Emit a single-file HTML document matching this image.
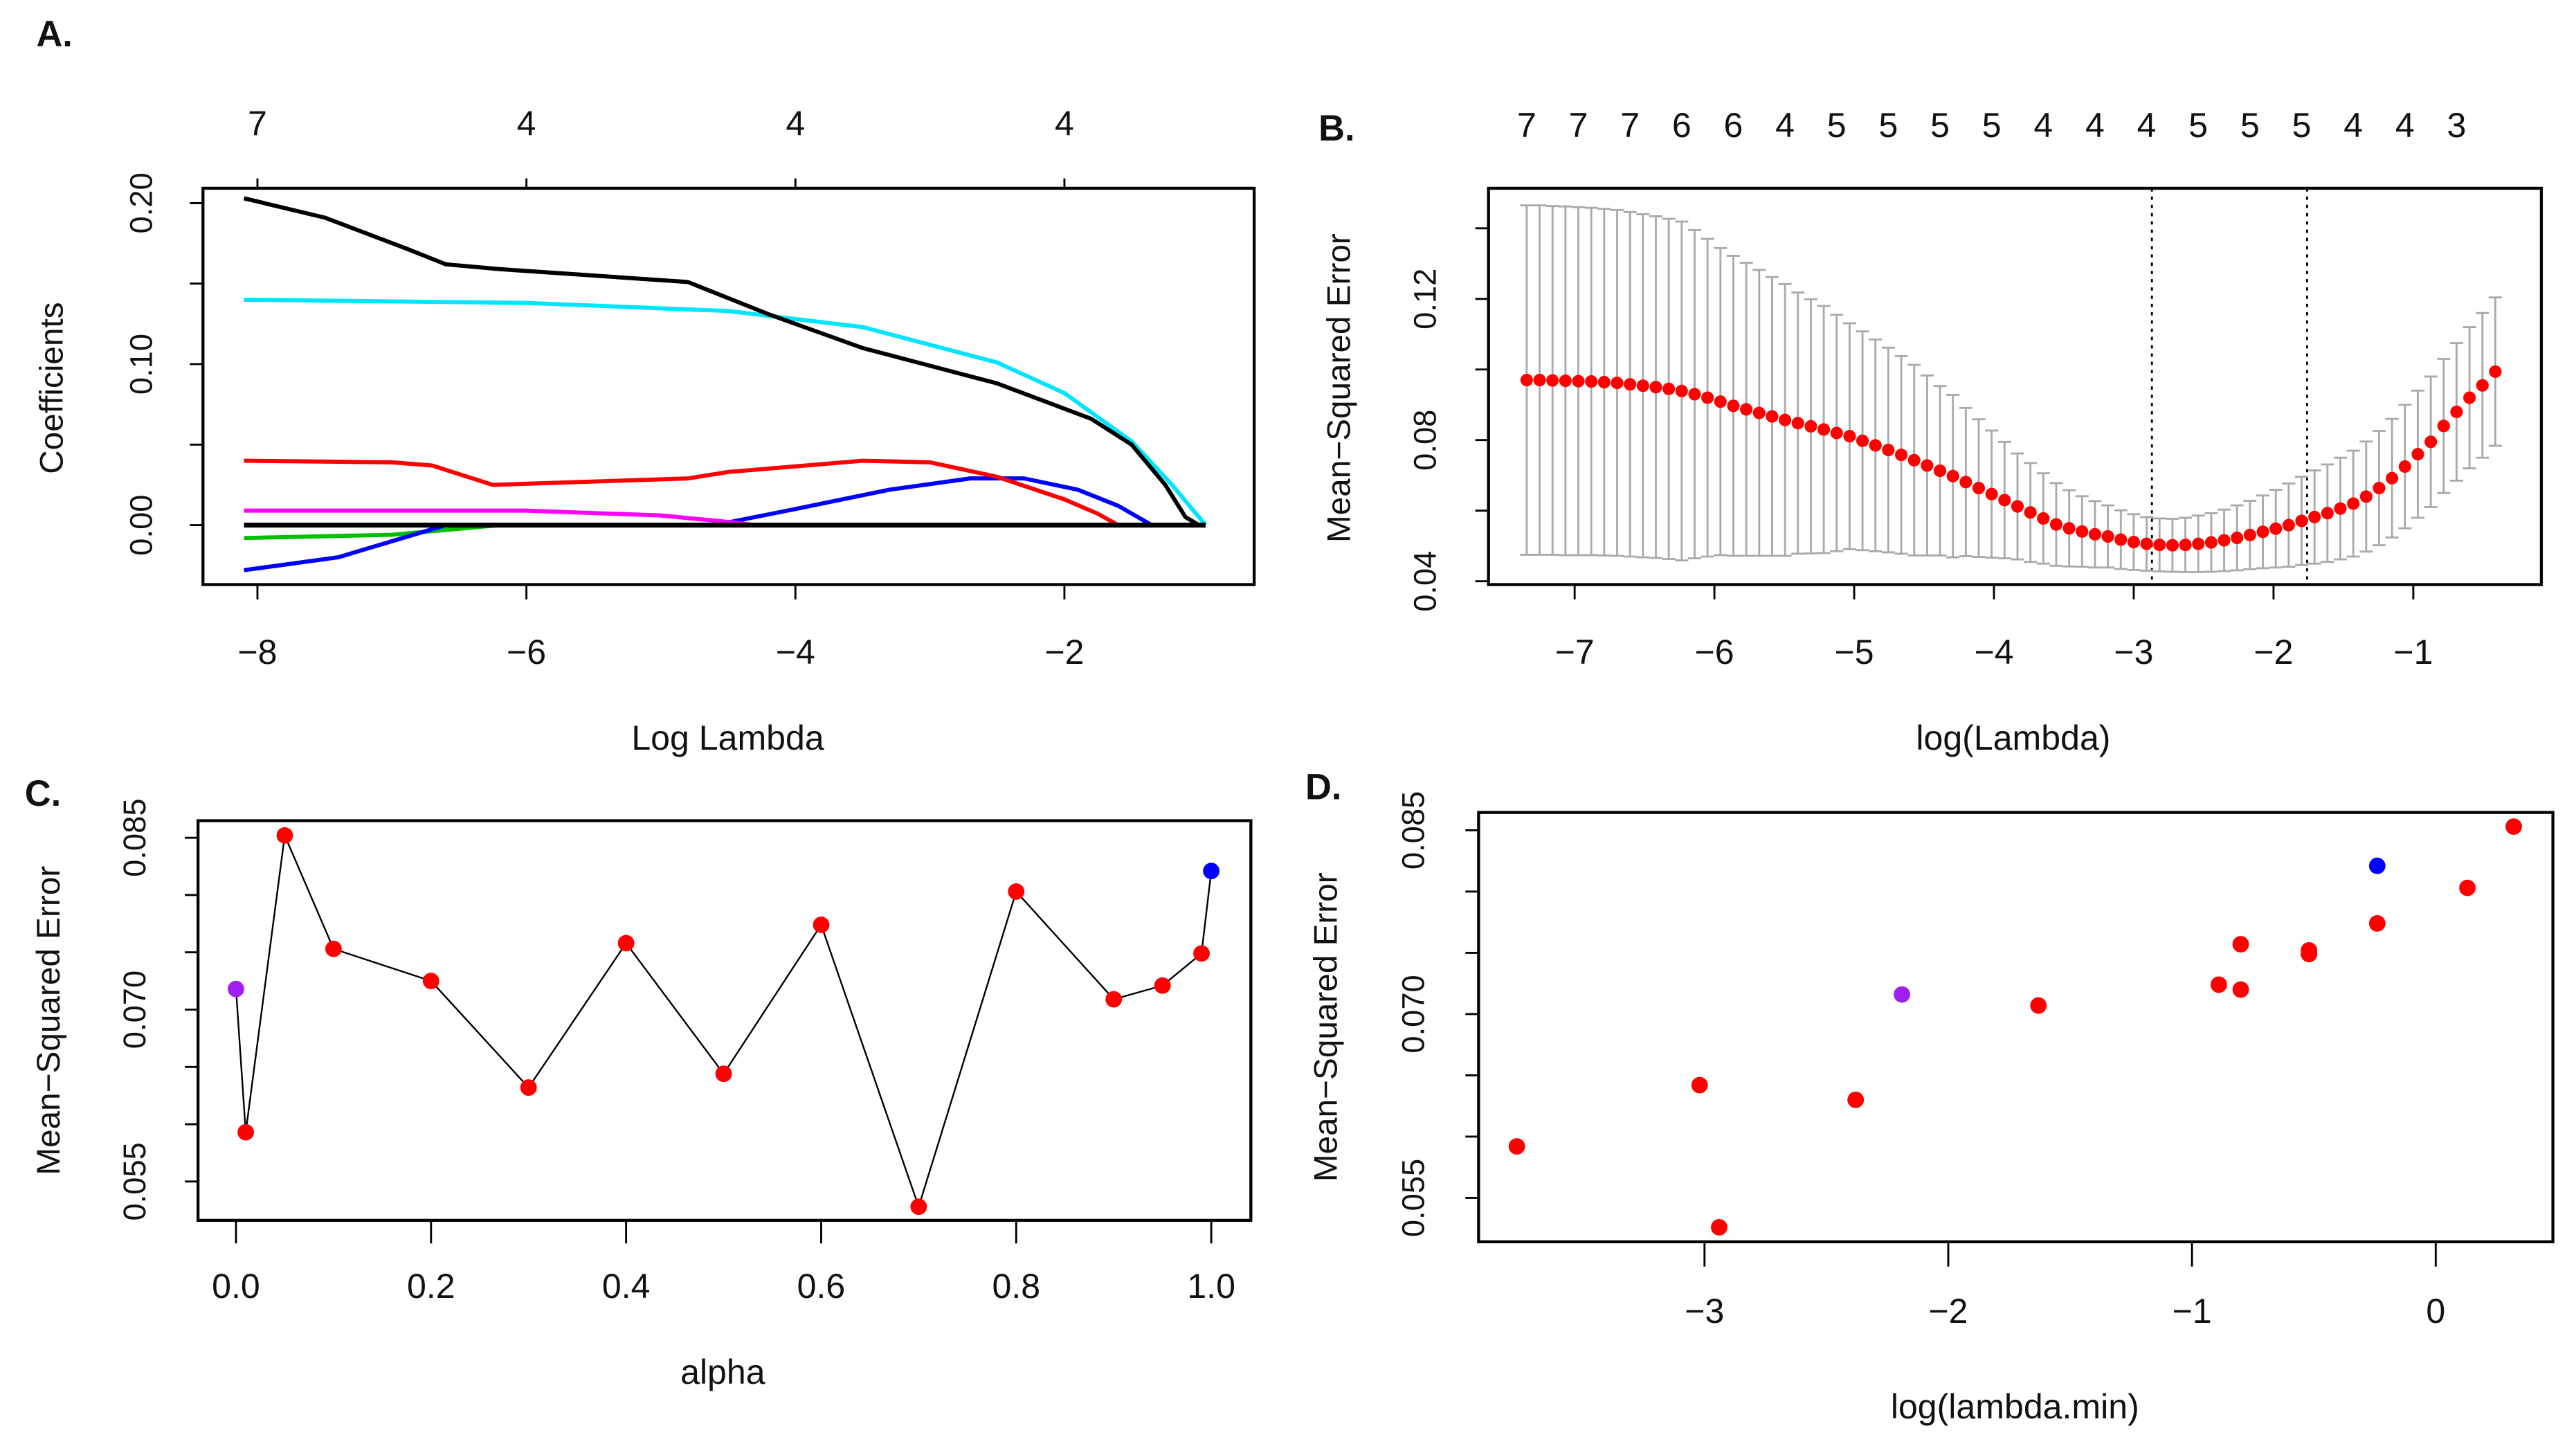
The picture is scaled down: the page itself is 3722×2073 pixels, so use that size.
<!DOCTYPE html>
<html><head><meta charset="utf-8"><style>
html,body{margin:0;padding:0;background:#fff;}
svg{display:block;}
text{font-family:"Liberation Sans Narrow","Liberation Sans",sans-serif;fill:#111;}
.wide{font-family:"Liberation Sans",sans-serif;}
</style></head><body>
<svg id="fig" width="3722" height="2073" viewBox="0 0 1561 869" preserveAspectRatio="none" xmlns="http://www.w3.org/2000/svg"></svg>
<script>
// ---------- Panel A data ----------
const aBlackX=[-8.1,-7.5,-6.9,-6.6,-6.2,-4.8,-4.2,-3.5,-2.5,-1.8,-1.5,-1.25,-1.1,-1.0];
const aBlackY=[0.203,0.191,0.172,0.162,0.159,0.151,0.131,0.110,0.088,0.066,0.050,0.025,0.005,0];
const aCyanX=[-8.1,-6,-4.5,-3.5,-2.5,-2,-1.5,-1.2,-0.95];
const aCyanY=[0.140,0.138,0.133,0.123,0.101,0.082,0.052,0.025,0];
const aRedX=[-8.1,-7,-6.7,-6.25,-4.8,-4.5,-3.5,-3,-2.5,-2,-1.75,-1.6];
const aRedY=[0.040,0.039,0.037,0.025,0.029,0.033,0.040,0.039,0.030,0.016,0.007,0];
const aBlueX=[-8.1,-7.4,-6.8,-6.6,-4.6,-4,-3.3,-2.7,-2.3,-1.9,-1.6,-1.35];
const aBlueY=[-0.028,-0.020,-0.005,0,0,0.010,0.022,0.029,0.029,0.022,0.012,0];
const aMagX=[-8.1,-6,-5,-4.5,-4.3,-0.95];
const aMagY=[0.009,0.009,0.006,0.002,0,0];
const aGreenX=[-8.1,-7,-6.2,-0.95];
const aGreenY=[-0.008,-0.006,0,0];
const aZeroX=[-8.1,-0.95];
const aZeroY=[0,0];
const aXTicks=[-8,-6,-4,-2];
const aYTicks=[0,0.05,0.10,0.15,0.20];
const aYLabels=["0.00","0.10","0.20"];
const aTopLabels=["7","4","4","4"];
// ---------- Panel B data ----------
const bStart=-7.343, bStep=0.0924;
const bMean=[0.0970,0.0970,0.0969,0.0968,0.0967,0.0966,0.0964,0.0962,
0.0958,0.0954,0.0950,0.0945,0.0939,0.0930,0.0920,0.0909,
0.0897,0.0887,0.0877,0.0867,0.0857,0.0848,0.0839,0.0830,0.0820,0.0811,
0.0798,0.0785,0.0772,0.0758,0.0743,0.0728,0.0713,0.0698,
0.0681,0.0664,0.0647,0.0630,0.0612,0.0595,0.0578,0.0561,
0.0550,0.0541,0.0533,0.0527,0.0518,0.0511,0.0506,0.0503,0.0502,
0.0503,0.0506,0.0510,0.0516,0.0523,0.0531,0.0540,
0.0549,0.0559,0.0571,0.0582,0.0593,0.0606,0.0620,0.0640,
0.0664,0.0692,0.0725,0.0760,0.0795,0.0840,0.0880,0.0920,0.0955,0.0994];
const bSd=[.0495,.0495,.0494,.0494,.0493,.0492,.0491,.0490,
.0488,.0486,.0484,.0482,.0480,.0465,.0450,.0435,
.0425,.0415,.0405,.0395,.0385,.0370,.0360,.0350,.0335,.0320,
.0310,.0300,.0290,.0280,.0270,.0255,.0240,.0230,
.0210,.0195,.0180,.0165,.0150,.0140,.0128,.0117,
.0108,.0100,.0094,.0088,.0083,.0079,.0076,.0075,.0075,
.0077,.0080,.0083,.0087,.0092,.0097,.0103,
.0110,.0118,.0125,.0132,.0138,.0144,.0150,.0156,
.0162,.0168,.0175,.0180,.0185,.0190,.0195,.0200,.0205,.0210];
const bTop=["7","7","7","6","6","4","5","5","5","5","4","4","4","5","5","5","4","4","3"];
const bXTicks=[-7,-6,-5,-4,-3,-2,-1];
const bYTicks=[0.04,0.06,0.08,0.10,0.12,0.14];
const bYLabels=["0.04","0.08","0.12"];
const bVlines=[-2.87,-1.76];
// ---------- Panel C data ----------
const cAlpha=[0,0.01,0.05,0.1,0.2,0.3,0.4,0.5,0.6,0.7,0.8,0.9,0.95,0.99,1.0];
const cMse=[0.0718,0.0593,0.0852,0.0753,0.0725,0.0632,0.0758,0.0644,0.0774,0.0528,0.0803,0.0709,0.0721,0.0749,0.0821];
const cColor=["#a020f0","red","red","red","red","red","red","red","red","red","red","red","red","red","blue"];
const cXTicks=[0,0.2,0.4,0.6,0.8,1.0];
const cYTicks=[0.055,0.060,0.065,0.070,0.075,0.080,0.085];
// ---------- Panel D data ----------
const dLog=[-3.77,-3.02,-2.94,-2.38,-2.19,-1.63,-0.89,-0.80,-0.80,-0.52,-0.52,-0.24,-0.24,0.13,0.32];
const dMse=[0.0592,0.0642,0.0526,0.0630,0.0716,0.0707,0.0724,0.0757,0.0720,0.0752,0.0749,0.0774,0.0821,0.0803,0.0853];
const dColor=["red","red","red","red","#a020f0","red","red","red","red","red","red","red","blue","red","red"];
const dXTicks=[-3,-2,-1,0];
const dYTicks=[0.055,0.060,0.065,0.070,0.075,0.080,0.085];

const NS="http://www.w3.org/2000/svg";
const svg=document.getElementById('fig');
function el(tag,attrs,parent,txt){const e=document.createElementNS(NS,tag);for(const k in attrs)e.setAttribute(k,attrs[k]);if(txt!==undefined)e.textContent=txt;(parent||svg).appendChild(e);return e;}
function grp(name){const g=el('g',{});


return g;}
function txt(g,x,y,s,size,opts){opts=opts||{};const a={x:x,y:y,'font-size':size,'text-anchor':opts.anchor||'middle'};
if(opts.rot)a.transform='rotate(-90 '+x+' '+y+')';if(opts.cls)a['class']=opts.cls;if(opts.weight)a['font-weight']=opts.weight;
const t=el('text',a,g,s);


return t;}
function line(g,x1,y1,x2,y2,st,w,dash){const a={x1:x1,y1:y1,x2:x2,y2:y2,stroke:st,'stroke-width':w};if(dash)a['stroke-dasharray']=dash;return el('line',a,g);}
function poly(g,xs,ys,fx,fy,col,w,name){const p=el('polyline',{points:xs.map((v,i)=>fx(v)+','+fy(ys[i])).join(' '),fill:'none',stroke:col,'stroke-width':w,'stroke-linejoin':'round'},g);

}

// ===== Panel A =====
(function(){const g=grp('panel-a-coefficient-paths');
const X=v=>156+(v+8)*81.5, Y=v=>318-v*975;
txt(g,33,28,'A.',22,{cls:'wide',weight:'bold',name:'panel-a-letter'});
el('rect',{x:123,y:114,width:637,height:240,fill:'none',stroke:'#000','stroke-width':1.8},g);
aXTicks.forEach(t=>{line(g,X(t),354,X(t),363,'#000',1.2);txt(g,X(t),402,'\u2212'+Math.abs(t),21,{name:'x-tick-label'});
line(g,X(t),114,X(t),108,'#000',1.2);});
aTopLabels.forEach((s,i)=>txt(g,X(aXTicks[i]),82,s,21,{name:'top-df-label'}));
aYTicks.forEach(t=>line(g,123,Y(t),115,Y(t),'#000',1.2));
aYLabels.forEach(s=>txt(g,92,Y(parseFloat(s)),s,19,{rot:true,cls:'wide',name:'y-tick-label'}));
txt(g,38,235,'Coefficients',20,{rot:true,cls:'wide',name:'y-axis-title'});
txt(g,441,454,'Log Lambda',21,{name:'x-axis-title'});
poly(g,aGreenX,aGreenY,X,Y,'#00c000',2.5,'path-green');
poly(g,aBlueX,aBlueY,X,Y,'#0000ff',2.5,'path-blue');
poly(g,aMagX,aMagY,X,Y,'#ff00ff',2.5,'path-magenta');
poly(g,aRedX,aRedY,X,Y,'#ff0000',2.5,'path-red');
poly(g,aCyanX,aCyanY,X,Y,'#00e5ff',2.5,'path-cyan');
poly(g,aZeroX,aZeroY,X,Y,'#000',3,'path-zero');
poly(g,aBlackX,aBlackY,X,Y,'#000',2.5,'path-black');
})();

// ===== Panel B =====
(function(){const g=grp('panel-b-cv-curve');
const X=v=>1293+(v+3)*84.7, Y=v=>352-(v-0.04)*2137.5;
txt(g,810,85,'B.',22,{cls:'wide',weight:'bold',name:'panel-b-letter'});
el('rect',{x:902,y:114,width:638,height:240,fill:'none',stroke:'#000','stroke-width':1.8},g);
bXTicks.forEach(t=>{line(g,X(t),354,X(t),363,'#000',1.2);txt(g,X(t),402,'\u2212'+Math.abs(t),21,{name:'x-tick-label'});});
bYTicks.forEach(t=>line(g,902,Y(t),894,Y(t),'#000',1.2));
bYLabels.forEach(s=>txt(g,870,Y(parseFloat(s)),s,19,{rot:true,cls:'wide',name:'y-tick-label'}));
txt(g,818,235,'Mean\u2212Squared Error',20,{rot:true,cls:'wide',name:'y-axis-title'});
txt(g,1220,454,'log(Lambda)',21,{name:'x-axis-title'});
bTop.forEach((s,i)=>txt(g,X(bStart+bStep*4*i),83,s,21,{name:'top-df-label'}));
bVlines.forEach(v=>line(g,X(v),114,X(v),354,'#000',1.2,'2,3'));
bMean.forEach((m,i)=>{const x=X(bStart+bStep*i),u=Y(m+bSd[i]),l=Y(m-bSd[i]);
const e=el('path',{d:'M'+x+','+u+'V'+l+'M'+(x-4)+','+u+'H'+(x+4)+'M'+(x-4)+','+l+'H'+(x+4),stroke:'#aaa','stroke-width':1.2,fill:'none'},g);

});
bMean.forEach((m,i)=>{const c=el('circle',{cx:X(bStart+bStep*i),cy:Y(m),r:3.8,fill:'#ff0000'},g);

});
})();

// ===== Panel C =====
(function(){const g=grp('panel-c-alpha-mse');
const X=v=>143+v*591, Y=v=>611.4-(v-0.07)*6940;
txt(g,26,488,'C.',22,{cls:'wide',weight:'bold',name:'panel-c-letter'});
el('rect',{x:120,y:497,width:638,height:242,fill:'none',stroke:'#000','stroke-width':1.8},g);
cXTicks.forEach(t=>{line(g,X(t),739,X(t),753,'#000',1.2);txt(g,X(t),786,t.toFixed(1),21,{name:'x-tick-label'});});
cYTicks.forEach(t=>line(g,120,Y(t),112,Y(t),'#000',1.2));
[0.055,0.070,0.085].forEach(t=>txt(g,88,Y(t),t.toFixed(3),19,{rot:true,cls:'wide',name:'y-tick-label'}));
txt(g,36,618,'Mean\u2212Squared Error',20,{rot:true,cls:'wide',name:'y-axis-title'});
txt(g,438,838,'alpha',21,{name:'x-axis-title'});
poly(g,cAlpha,cMse,X,Y,'#000',1,'alpha-line');
cAlpha.forEach((a,i)=>{const c=el('circle',{cx:X(a),cy:Y(cMse[i]),r:5,fill:cColor[i]},g);

});
})();

// ===== Panel D =====
(function(){const g=grp('panel-d-lambda-mse');
const X=v=>1476+v*147.7, Y=v=>614.1-(v-0.07)*7420;
txt(g,802,484,'D.',22,{cls:'wide',weight:'bold',name:'panel-d-letter'});
el('rect',{x:896,y:492,width:651,height:260,fill:'none',stroke:'#000','stroke-width':1.8},g);
dXTicks.forEach(t=>{line(g,X(t),752,X(t),767,'#000',1.2);txt(g,X(t),801,t<0?'\u2212'+Math.abs(t):'0',21,{name:'x-tick-label'});});
dYTicks.forEach(t=>line(g,896,Y(t),888,Y(t),'#000',1.2));
[0.055,0.070,0.085].forEach(t=>txt(g,863,Y(t),t.toFixed(3),19,{rot:true,cls:'wide',name:'y-tick-label'}));
txt(g,810,622,'Mean\u2212Squared Error',20,{rot:true,cls:'wide',name:'y-axis-title'});
txt(g,1221,859,'log(lambda.min)',21,{name:'x-axis-title'});
dLog.forEach((l,i)=>{const c=el('circle',{cx:X(l),cy:Y(dMse[i]),r:5,fill:dColor[i]},g);

});
})();
</script>
</body></html>
